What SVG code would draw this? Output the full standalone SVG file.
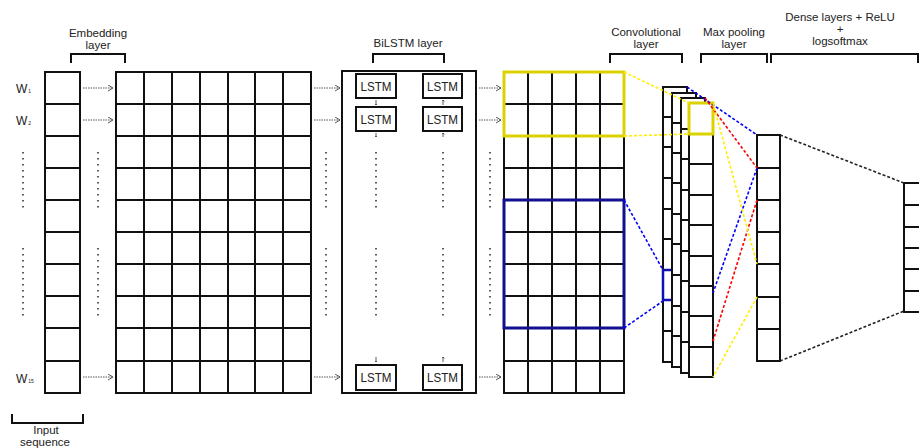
<svg xmlns="http://www.w3.org/2000/svg" width="919" height="448" viewBox="0 0 919 448">
<style>
text{font-family:"Liberation Sans",Arial,sans-serif;fill:#222}
.lbl{font-size:11.5px;text-anchor:middle}
.cell{fill:#fff;stroke:#111;stroke-width:2}
.ln{stroke:#111;stroke-width:2}
.br{fill:none;stroke:#111;stroke-width:2}
.dots{stroke:#333;stroke-width:1.6;stroke-dasharray:1.6 4.4}
.arr{stroke:#444;stroke-width:0.9;stroke-dasharray:1.5 1;fill:none}
.sm{stroke:#333;stroke-width:0.8;fill:none}
.lstm{font-size:13px;text-anchor:middle}
.w{font-size:12px}
.sub{font-size:5px}
.dy{stroke:#ffee00;stroke-width:1.6;stroke-dasharray:3 2;fill:none}
.db{stroke:#0000ff;stroke-width:1.6;stroke-dasharray:3 2;fill:none}
.dr{stroke:#ff0000;stroke-width:1.6;stroke-dasharray:3 2;fill:none}
.dk{stroke:#222;stroke-width:1.6;stroke-dasharray:3 2;fill:none}
.hy{fill:none;stroke:#dcd200;stroke-width:3}
</style>
<defs>
<marker id="oa" markerUnits="userSpaceOnUse" markerWidth="8" markerHeight="8" refX="5" refY="3" orient="auto">
<path d="M0,0 L5,3 L0,6" fill="none" stroke="#444" stroke-width="0.9"/>
</marker>
<marker id="sa" markerUnits="userSpaceOnUse" markerWidth="4" markerHeight="4" refX="1.5" refY="1.5" orient="auto">
<path d="M0,0 L1.5,1.5 L0,3" fill="none" stroke="#333" stroke-width="0.7"/>
</marker>
</defs>
<rect width="919" height="448" fill="#fff"/>

<g id="labels">
<text class="lbl" x="98" y="37">Embedding</text>
<text class="lbl" x="98" y="49">layer</text>
<text class="lbl" x="408" y="47">BiLSTM layer</text>
<text class="lbl" x="646" y="36">Convolutional</text>
<text class="lbl" x="646" y="48">layer</text>
<text class="lbl" x="734" y="36">Max pooling</text>
<text class="lbl" x="734" y="48">layer</text>
<text class="lbl" x="840" y="21">Dense layers + ReLU</text>
<text class="lbl" x="840" y="33">+</text>
<text class="lbl" x="840" y="45">logsoftmax</text>
<text class="lbl" x="46" y="434">Input</text>
<text class="lbl" x="45" y="446">sequence</text>
<text class="w" x="16" y="93">W<tspan class="sub" dx="1">1</tspan></text>
<text class="w" x="16" y="125">W<tspan class="sub" dx="1">2</tspan></text>
<text class="w" x="16" y="383">W<tspan class="sub" dx="1">15</tspan></text>
</g>

<g id="brackets">
<path class="br" d="M71,63 V54 H125 V63"/>
<path class="br" d="M373,63 V54 H444 V63"/>
<path class="br" d="M610,63 V54 H682 V63"/>
<path class="br" d="M701,63 V54 H767 V63"/>
<path class="br" d="M771,63 V54 H918 V63"/>
<path class="br" d="M12,414 V423 H83 V414"/>
</g>

<g id="input-sequence">
<rect class="cell" x="45" y="72" width="35" height="321"/>
<path class="ln" d="M45,104H80M45,136H80M45,168H80M45,200H80M45,232H80M45,264H80M45,296H80M45,328H80M45,361H80"/>
</g>

<g id="embedding-layer">
<rect class="cell" x="116" y="72" width="195" height="321"/>
<path class="ln" d="M144,72V393M172,72V393M200,72V393M228,72V393M255,72V393M283,72V393"/>
<path class="ln" d="M116,104H311M116,136H311M116,168H311M116,200H311M116,232H311M116,264H311M116,296H311M116,328H311M116,361H311"/>
</g>

<g id="bilstm-layer">
<rect class="cell" x="342" y="71" width="134" height="322"/>
<rect class="cell" x="356" y="74" width="40" height="24"/>
<rect class="cell" x="356" y="107" width="40" height="24"/>
<rect class="cell" x="356" y="365" width="40" height="25"/>
<rect class="cell" x="423" y="74" width="39" height="24"/>
<rect class="cell" x="423" y="107" width="39" height="24"/>
<rect class="cell" x="423" y="365" width="39" height="25"/>
<text class="lstm" x="376" y="91" textLength="31" lengthAdjust="spacingAndGlyphs">LSTM</text>
<text class="lstm" x="376" y="124" textLength="31" lengthAdjust="spacingAndGlyphs">LSTM</text>
<text class="lstm" x="376" y="382" textLength="31" lengthAdjust="spacingAndGlyphs">LSTM</text>
<text class="lstm" x="442.5" y="91" textLength="31" lengthAdjust="spacingAndGlyphs">LSTM</text>
<text class="lstm" x="442.5" y="124" textLength="31" lengthAdjust="spacingAndGlyphs">LSTM</text>
<text class="lstm" x="442.5" y="382" textLength="31" lengthAdjust="spacingAndGlyphs">LSTM</text>
<path class="sm" marker-end="url(#sa)" d="M376,100V105"/>
<path class="sm" marker-end="url(#sa)" d="M376,133V137"/>
<path class="sm" marker-end="url(#sa)" d="M376,357V362"/>
<path class="sm" marker-end="url(#sa)" d="M443,105V100"/>
<path class="sm" marker-end="url(#sa)" d="M443,137V133"/>
<path class="sm" marker-end="url(#sa)" d="M443,362V357"/>
<path class="dots" d="M376,152V212M376,248V320M443,152V212M443,248V320"/>
</g>

<g id="bilstm-output">
<rect class="cell" x="504" y="72" width="120" height="321"/>
<path class="ln" d="M528,72V393M552,72V393M576,72V393M600,72V393"/>
<path class="ln" d="M504,104H624M504,136H624M504,168H624M504,200H624M504,232H624M504,264H624M504,296H624M504,328H624M504,361H624"/>
<rect class="hy" x="504" y="72" width="120" height="64"/>
<rect x="504" y="200" width="120" height="128" fill="none" stroke="#101090" stroke-width="3"/>
</g>

<g id="convolutional-layer">
<rect class="cell" x="663" y="87" width="24" height="275"/>
<path class="ln" d="M663,117H687M663,147H687M663,178H687M663,209H687M663,239H687M663,270H687M663,300H687M663,331H687"/>
<rect x="663" y="270" width="24" height="30" fill="none" stroke="#1010b0" stroke-width="2.5"/>
<rect class="cell" x="672" y="93" width="24" height="274"/>
<path class="ln" d="M672,123H696M672,153H696M672,183H696M672,214H696M672,244H696M672,275H696M672,306H696M672,336H696"/>
<rect class="cell" x="681" y="98" width="24" height="275"/>
<path class="ln" d="M681,129H705M681,159H705M681,190H705M681,220H705M681,251H705M681,281H705M681,312H705M681,342H705"/>
</g>

<g id="max-pooling-layer">
<rect class="cell" x="689" y="103" width="24" height="274"/>
<path class="ln" d="M689,134H713M689,164H713M689,195H713M689,225H713M689,256H713M689,286H713M689,316H713M689,347H713"/>
<rect class="hy" x="689" y="103" width="24" height="31" stroke-width="2.5"/>
</g>

<g id="dense-layer">
<rect class="cell" x="757" y="135" width="23" height="226"/>
<path class="ln" d="M757,168H780M757,200H780M757,232H780M757,264H780M757,297H780M757,329H780"/>
</g>

<g id="output-layer">
<rect class="cell" x="904" y="183" width="30" height="129"/>
<path class="ln" d="M904,205H934M904,227H934M904,248H934M904,269H934M904,291H934"/>
</g>

<g id="connectors">
<path class="dots" d="M23,152V212M23,248V320M98,152V212M98,248V320M326,152V212M326,248V320M490,152V212M490,248V320"/>
<path class="arr" marker-end="url(#oa)" d="M83,88H113"/>
<path class="arr" marker-end="url(#oa)" d="M83,120H113"/>
<path class="arr" marker-end="url(#oa)" d="M83,377H113"/>
<path class="arr" marker-end="url(#oa)" d="M314,88H340"/>
<path class="arr" marker-end="url(#oa)" d="M314,120H340"/>
<path class="arr" marker-end="url(#oa)" d="M314,377H340"/>
<path class="arr" marker-end="url(#oa)" d="M479,88H501"/>
<path class="arr" marker-end="url(#oa)" d="M479,120H501"/>
<path class="arr" marker-end="url(#oa)" d="M479,377H501"/>
<path class="dy" d="M624,72L689,103M624,136L689,134"/>
<path class="db" d="M624,200L663,270M624,328L663,301"/>
<path class="db" d="M687,87L757,135M757,168L713,293"/>
<path class="dr" d="M705,98L757,168M757,200L713,341"/>
<path class="dy" d="M713,103L757,264M757,297L713,377"/>
<path class="dk" d="M780,135L904,183M780,361L904,311"/>
</g>
</svg>
